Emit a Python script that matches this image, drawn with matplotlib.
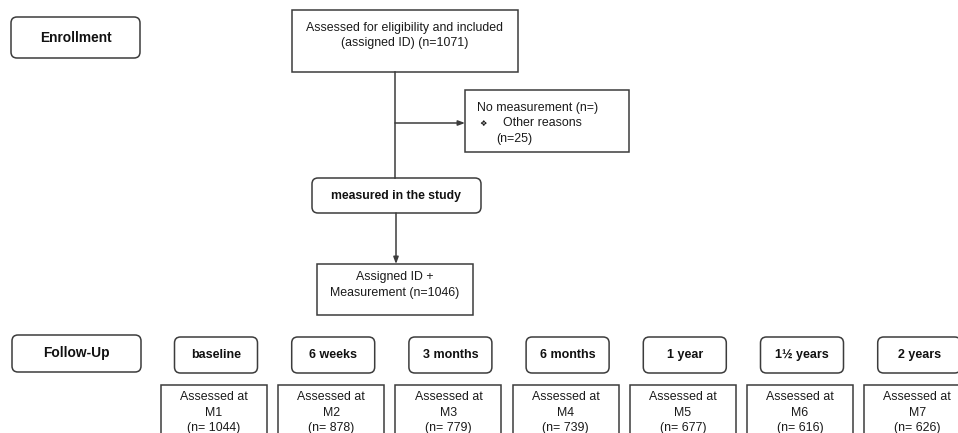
import matplotlib
matplotlib.use("Agg")
import matplotlib.pyplot as plt
from matplotlib.patches import FancyBboxPatch, Rectangle

plt.rcParams["font.family"] = ["Liberation Sans", "DejaVu Sans"]

# data
timepoints = ["baseline", "6 weeks", "3 months", "6 months", "1 year", "1½ years", "2 years"]
visits = ["M1", "M2", "M3", "M4", "M5", "M6", "M7"]
n_assessed = [1044, 878, 779, 739, 677, 616, 626]
n_included = 1071
n_excluded = 25
n_measured = 1046

W, H = 958, 433
fig = plt.figure(figsize=(W / 100, H / 100), dpi=100)
ax = fig.add_axes([0, 0, 1, 1])
ax.set_xlim(0, W)
ax.set_ylim(H, 0)
ax.axis("off")

LC = "#3c3c3c"
LW = 1.1
FS = 8.9
TC = "#1a1a1a"


def rbox(x0, y0, x1, y1, text, fs=9.0):
    ax.add_patch(FancyBboxPatch((x0, y0), x1 - x0, y1 - y0,
                                boxstyle="round,pad=0,rounding_size=6",
                                fc="white", ec=LC, lw=LW))
    ax.text((x0 + x1) / 2, (y0 + y1) / 2, text, ha="center", va="center",
            fontsize=fs, fontweight="bold", color="#111111")


def sbox(x0, y0, x1, y1):
    ax.add_patch(Rectangle((x0, y0), x1 - x0, y1 - y0, fc="white", ec=LC, lw=LW))


def lines(x, ys, texts, ha="center"):
    for y, t in zip(ys, texts):
        ax.text(x, y, t, ha=ha, va="center", fontsize=FS, color=TC)


# enrollment part
rbox(11, 17, 140, 58, "Enrollment", fs=9.9)

sbox(292, 10, 518, 72)
lines(405, [28, 43], ["Assessed for eligibility and included",
                      "(assigned ID) (n=%d)" % n_included])

ax.plot([395, 395], [72, 178], color=LC, lw=LW)
ax.annotate("", xy=(465, 123), xytext=(395, 123),
            arrowprops=dict(arrowstyle="-|>,head_length=0.4,head_width=0.15",
                            color=LC, lw=LW, shrinkA=0, shrinkB=0))

sbox(465, 90, 629, 152)
ax.text(477, 108, "No measurement (n=)", ha="left", va="center", fontsize=FS, color=TC)
ax.text(479, 123, "❖", ha="left", va="center", fontsize=6,
        family=["DejaVu Sans"], color=TC)
ax.text(503, 123, "Other reasons", ha="left", va="center", fontsize=FS, color=TC)
ax.text(496, 139, "(n=%d)" % n_excluded, ha="left", va="center", fontsize=FS, color=TC)

rbox(312, 178, 481, 213, "measured in the study", fs=8.8)
ax.annotate("", xy=(396, 264), xytext=(396, 213),
            arrowprops=dict(arrowstyle="-|>,head_length=0.4,head_width=0.15",
                            color=LC, lw=LW, shrinkA=0, shrinkB=0))

sbox(317, 264, 473, 315)
lines(395, [277, 293], ["Assigned ID +", "Measurement (n=%d)" % n_measured])

# follow-up part
rbox(12, 335, 141, 372, "Follow-Up", fs=9.9)
for i, (tp, v, n) in enumerate(zip(timepoints, visits, n_assessed)):
    cx = 216 + 117.2 * i
    rbox(cx - 41.5, 337, cx + 41.5, 373, tp, fs=9.0)
    bx = cx - 2
    sbox(bx - 53, 385, bx + 53, 445)
    lines(bx, [397, 413, 428], ["Assessed at", v, "(n= %d)" % n])

fig.savefig("out.png", dpi=100)
